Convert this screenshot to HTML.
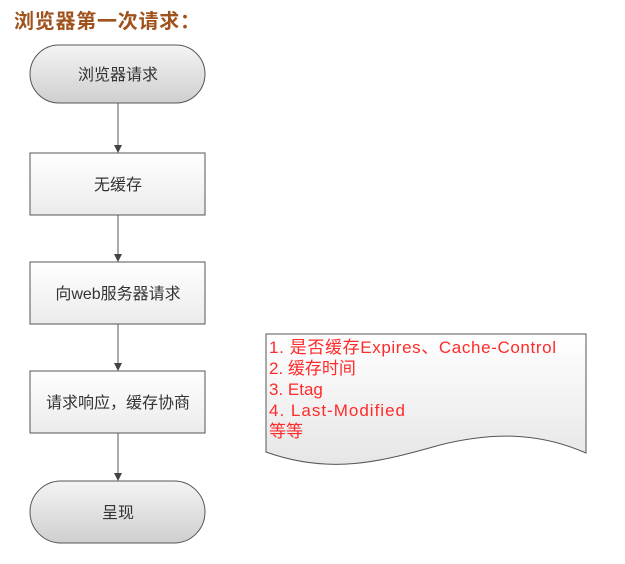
<!DOCTYPE html>
<html><head><meta charset="utf-8"><style>
body{margin:0;background:#fff;width:625px;height:564px;overflow:hidden;font-family:"Liberation Sans","Noto Sans CJK SC",sans-serif}
</style></head><body>
<svg width="625" height="564" xmlns="http://www.w3.org/2000/svg" style="position:absolute;left:0;top:0">
<defs>
<linearGradient id="g" x1="0" y1="0" x2="0" y2="1"><stop offset="0" stop-color="#f4f4f4"/><stop offset="1" stop-color="#cfcfcf"/></linearGradient>
<linearGradient id="w" x1="0" y1="0" x2="0" y2="1"><stop offset="0" stop-color="#ffffff"/><stop offset="1" stop-color="#ebebeb"/></linearGradient>
<linearGradient id="d" x1="0" y1="0" x2="0" y2="1"><stop offset="0" stop-color="#ffffff"/><stop offset="1" stop-color="#e6e6e6"/></linearGradient>
<marker id="a" markerWidth="8" markerHeight="8" refX="7" refY="4" orient="auto" markerUnits="userSpaceOnUse"><path d="M0,0 L8,4 L0,8 z" fill="#444"/></marker>
</defs>
<text x="14" y="28" font-size="20" font-weight="bold" fill="#a0521c" textLength="186" font-family="'Liberation Sans','Noto Sans CJK SC',sans-serif">浏览器第一次请求：</text>
<g stroke="#555" stroke-width="1">
<rect x="30" y="45" width="175" height="58" rx="29" fill="url(#g)"/>
<rect x="30" y="153" width="175" height="62" fill="url(#w)"/>
<rect x="30" y="262" width="175" height="62" fill="url(#w)"/>
<rect x="30" y="371" width="175" height="62" fill="url(#w)"/>
<rect x="30" y="481" width="175" height="62" rx="31" fill="url(#g)"/>
<line x1="118" y1="103" x2="118" y2="152" marker-end="url(#a)"/>
<line x1="118" y1="215" x2="118" y2="261" marker-end="url(#a)"/>
<line x1="118" y1="324" x2="118" y2="370" marker-end="url(#a)"/>
<line x1="118" y1="433" x2="118" y2="480" marker-end="url(#a)"/>
<path d="M266,334 L586,334 L586,453 C545,435 500,430 440,445 C380,462 330,475 266,452 Z" fill="url(#d)"/>
</g>
<g font-size="16" fill="#333" text-anchor="middle" font-family="'Liberation Sans','Noto Sans CJK SC',sans-serif">
<text x="118" y="80">浏览器请求</text>
<text x="118" y="190">无缓存</text>
<text x="118" y="299">向web服务器请求</text>
<text x="118" y="408">请求响应，缓存协商</text>
<text x="118" y="518">呈现</text>
</g>
<g font-size="17" fill="#ff2a2a" font-family="'Liberation Sans','Noto Sans CJK SC',sans-serif">
<text x="269" y="353" textLength="287">1. 是否缓存Expires、Cache-Control</text>
<text x="269" y="374">2. 缓存时间</text>
<text x="269" y="395">3. Etag</text>
<text x="269" y="416" textLength="136">4. Last-Modified</text>
<text x="269" y="437">等等</text>
</g>
</svg>
</body></html>
